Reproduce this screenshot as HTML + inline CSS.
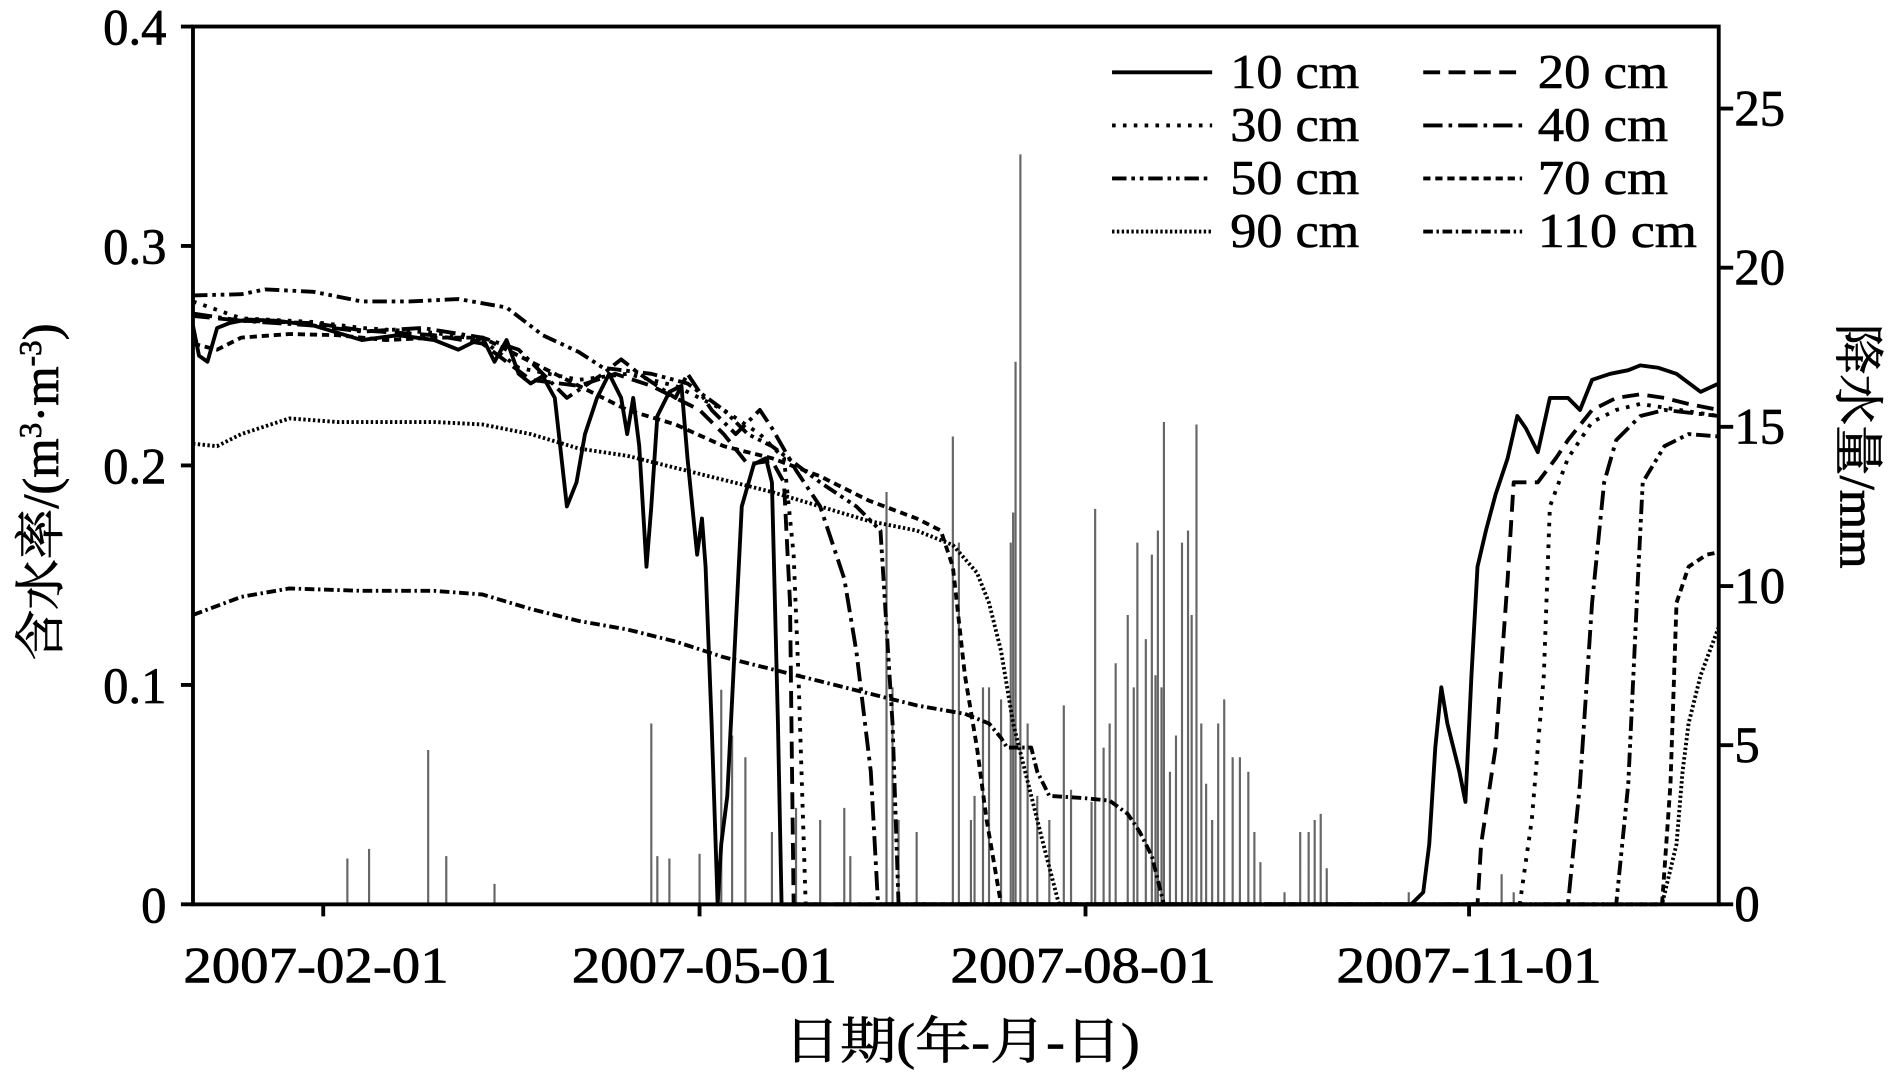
<!DOCTYPE html>
<html><head><meta charset="utf-8"><style>html,body{margin:0;padding:0;background:#fff}svg{display:block}</style></head><body>
<svg width="1890" height="1078" viewBox="0 0 1567 894" preserveAspectRatio="none" xmlns="http://www.w3.org/2000/svg" font-family="Liberation Serif, Noto Serif CJK SC, serif">
<g stroke="#666" stroke-width="1.8">
<path d="M288 750V712M306 750V704M355 750V622M370 750V710M410 750V733M540 750V600M545 750V710M555 750V712M580 750V708M598 750V572M607 750V610M618 750V628M640 750V690M660 750V670M680 750V680M700 750V670M705 750V710M735 750V408M740 750V570M745 750V680M760 750V690M790 750V362M795 750V450M805 750V680M808 750V660M815 750V570M820 750V570M830 750V580M838 750V450M840 750V425M842 750V300M846 750V128M852 750V600M860 750V660M870 750V680M882 750V585M888 750V655M905 750V665M908 750V422M915 750V620M920 750V600M925 750V550M935 750V510M940 750V570M943 750V450M950 750V530M955 750V460M958 750V560M960 750V440M963 750V570M965 750V350M970 750V640M975 750V610M980 750V450M985 750V440M988 750V510M992 750V352M996 750V600M1000 750V650M1005 750V680M1010 750V600M1015 750V580M1022 750V628M1028 750V628M1035 750V640M1040 750V690M1045 750V715M1065 750V740M1078 750V690M1085 750V690M1090 750V680M1095 750V675M1100 750V720M1168 750V740M1245 750V725M1255 750V740"/>
</g>
<g fill="none" stroke="#000" stroke-width="3.2" stroke-linejoin="round">
<polyline points="160,270 165,295 172,300 180,272 190,268 205,265 230,266 260,270 300,282 330,278 360,282 380,290 400,280 410,300 420,282 430,310 440,318 450,312 460,330 470,420 478,400 485,360 495,330 505,310 515,330 520,360 525,330 530,370 536,470 540,420 545,345 555,325 565,320 570,380 578,460 582,430 585,470 590,600 595,750 598,700 603,660 608,560 615,420 625,385 635,380 640,400 645,600 648,750 1170,750 1180,740 1185,700 1190,620 1195,570 1200,600 1210,640 1215,665 1220,560 1225,470 1232,440 1240,410 1250,380 1258,345 1265,355 1275,375 1285,330 1300,330 1310,340 1320,315 1335,310 1350,307 1360,303 1375,305 1390,310 1410,325 1425,318"/>
<polyline stroke-dasharray="14,7" points="160,262 200,266 260,268 300,274 360,278 400,285 420,300 440,315 480,320 510,310 540,320 560,330 580,340 600,360 620,385 640,382 650,400 655,500 658,750 1225,750 1228,700 1240,620 1250,480 1255,400 1275,400 1290,380 1300,365 1320,340 1340,330 1360,327 1380,330 1400,335 1425,340"/>
<polyline stroke-dasharray="3,6" points="160,250 200,264 260,267 300,272 360,276 400,282 430,305 480,315 520,310 560,320 600,340 630,360 650,380 658,460 662,560 668,750 1260,750 1270,680 1280,560 1285,420 1300,380 1320,350 1340,340 1360,335 1425,345"/>
<polyline stroke-dasharray="16,5,3,5" points="160,260 200,266 260,270 300,275 350,272 400,280 430,290 470,330 500,310 515,298 530,310 560,330 570,310 590,340 610,360 630,340 640,355 660,390 680,420 700,480 710,540 722,640 728,750 1300,750 1310,650 1320,500 1330,400 1340,365 1360,345 1380,340 1425,345"/>
<polyline stroke-dasharray="12,4,3,4,3,4" points="160,245 200,244 220,240 260,242 300,250 340,250 380,248 420,255 450,278 480,292 500,305 540,310 570,318 600,340 620,360 640,370 660,385 680,400 710,420 730,440 740,600 745,750 1340,750 1350,650 1358,480 1362,400 1380,370 1400,360 1425,362"/>
<polyline stroke-dasharray="6,4" points="160,285 180,290 200,280 240,277 280,278 320,282 360,280 400,280 440,300 480,320 520,340 560,352 600,370 640,380 680,395 720,415 760,430 780,440 790,470 800,560 810,620 818,680 830,750 1378,750 1385,650 1390,500 1400,470 1415,460 1425,458"/>
<polyline stroke-dasharray="2,2" points="160,368 180,370 200,360 240,347 280,350 320,350 360,350 400,352 440,360 480,372 520,378 560,388 600,398 640,408 680,420 720,432 760,440 790,452 810,475 820,500 830,540 840,600 855,660 865,700 878,750 1378,750 1390,700 1395,640 1400,600 1410,560 1425,520"/>
<polyline stroke-dasharray="8,3,2,3" points="160,510 200,495 240,488 300,490 360,490 400,493 440,505 480,515 520,522 560,532 600,545 640,555 680,565 720,575 760,585 800,592 820,600 830,612 835,620 855,620 860,640 870,660 900,662 920,664 935,675 945,690 955,710 960,730 965,750"/>
</g>
<g stroke="#000" stroke-width="3.2" fill="none">
<rect x="160" y="22" width="1265" height="728"/>
<path d="M150 22H160M150 204H160M150 386H160M150 568H160M150 750H160M1425 750H1437M1425 618H1437M1425 486H1437M1425 354H1437M1425 222H1437M1425 90H1437M268 750V760M580 750V760M900 750V760M1218 750V760"/>
</g>
<g font-size="42" text-anchor="end" stroke="#000" stroke-width="0.6">
<text x="138" y="37">0.4</text><text x="138" y="219">0.3</text><text x="138" y="401">0.2</text><text x="138" y="583">0.1</text><text x="138" y="765">0</text>
</g>
<g font-size="42" stroke="#000" stroke-width="0.6">
<text x="1438" y="104">25</text><text x="1438" y="236">20</text><text x="1438" y="368">15</text><text x="1438" y="500">10</text><text x="1438" y="632">5</text><text x="1438" y="764">0</text>
</g>
<g font-size="42" stroke="#000" stroke-width="0.6">
<text x="152" y="815" textLength="220" lengthAdjust="spacingAndGlyphs">2007-02-01</text>
<text x="474" y="815" textLength="220" lengthAdjust="spacingAndGlyphs">2007-05-01</text>
<text x="788" y="815" textLength="220" lengthAdjust="spacingAndGlyphs">2007-08-01</text>
<text x="1108" y="815" textLength="220" lengthAdjust="spacingAndGlyphs">2007-11-01</text>
<text x="650" y="878" textLength="295" lengthAdjust="spacingAndGlyphs">日期(年-月-日)</text>
</g>
<text transform="translate(48,408) rotate(-90)" font-size="42" text-anchor="middle" stroke="#000" stroke-width="0.6">含水率/(m<tspan font-size="26" dy="-14">3</tspan><tspan dy="14">·m</tspan><tspan font-size="26" dy="-14">-3</tspan><tspan dy="14">)</tspan></text>
<text transform="translate(1526,370) rotate(90)" font-size="42" text-anchor="middle" stroke="#000" stroke-width="0.6">降水量/mm</text>
<g stroke="#000" stroke-width="3.2" fill="none">
<path d="M922 60H1005"/>
<path d="M1180 60H1262" stroke-dasharray="14,7"/>
<path d="M922 104H1005" stroke-dasharray="3,6"/>
<path d="M1180 104H1262" stroke-dasharray="16,5,3,5"/>
<path d="M922 148H1005" stroke-dasharray="12,4,3,4,3,4"/>
<path d="M1180 148H1262" stroke-dasharray="6,4"/>
<path d="M922 192H1005" stroke-dasharray="2,2"/>
<path d="M1180 192H1262" stroke-dasharray="8,3,2,3"/>
</g>
<g font-size="40" stroke="#000" stroke-width="0.5">
<text x="1020" y="73" textLength="107" lengthAdjust="spacingAndGlyphs">10 cm</text><text x="1275" y="73" textLength="108" lengthAdjust="spacingAndGlyphs">20 cm</text>
<text x="1020" y="117" textLength="107" lengthAdjust="spacingAndGlyphs">30 cm</text><text x="1275" y="117" textLength="108" lengthAdjust="spacingAndGlyphs">40 cm</text>
<text x="1020" y="161" textLength="107" lengthAdjust="spacingAndGlyphs">50 cm</text><text x="1275" y="161" textLength="108" lengthAdjust="spacingAndGlyphs">70 cm</text>
<text x="1020" y="205" textLength="107" lengthAdjust="spacingAndGlyphs">90 cm</text><text x="1275" y="205" textLength="132" lengthAdjust="spacingAndGlyphs">110 cm</text>
</g>
</svg>
</body></html>
